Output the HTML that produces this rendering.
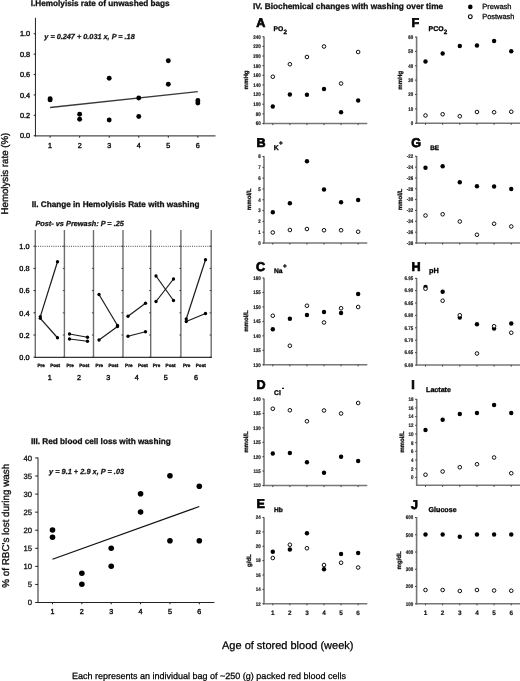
<!DOCTYPE html>
<html><head><meta charset="utf-8"><title>Stored blood washing figure</title>
<style>
html,body{margin:0;padding:0;background:#fff;}
body{width:520px;height:681px;overflow:hidden;}
svg{display:block;will-change:transform;text-rendering:geometricPrecision;font-family:"Liberation Sans", sans-serif;}
</style></head>
<body>
<svg width="520" height="681" viewBox="0 0 520 681">
<rect width="520" height="681" fill="#fff"/>
<text x="30.80" y="6.20" font-size="8.2" font-weight="bold" fill="#111" stroke="#111" stroke-width="0.3">I.Hemolyisis rate of unwashed bags</text>
<line x1="35.45" y1="17.80" x2="35.45" y2="136.40" stroke="#222" stroke-width="1" />
<line x1="34.95" y1="135.90" x2="215.50" y2="135.90" stroke="#222" stroke-width="1" />
<line x1="33.65" y1="135.75" x2="35.45" y2="135.75" stroke="#222" stroke-width="1" />
<text x="30.10" y="138.45" font-size="7.35" text-anchor="end" fill="#111" stroke="#111" stroke-width="0.4">0.0</text>
<line x1="33.65" y1="115.35" x2="35.45" y2="115.35" stroke="#222" stroke-width="1" />
<text x="30.10" y="118.05" font-size="7.35" text-anchor="end" fill="#111" stroke="#111" stroke-width="0.4">0.2</text>
<line x1="33.65" y1="94.95" x2="35.45" y2="94.95" stroke="#222" stroke-width="1" />
<text x="30.10" y="97.65" font-size="7.35" text-anchor="end" fill="#111" stroke="#111" stroke-width="0.4">0.4</text>
<line x1="33.65" y1="74.55" x2="35.45" y2="74.55" stroke="#222" stroke-width="1" />
<text x="30.10" y="77.25" font-size="7.35" text-anchor="end" fill="#111" stroke="#111" stroke-width="0.4">0.6</text>
<line x1="33.65" y1="54.15" x2="35.45" y2="54.15" stroke="#222" stroke-width="1" />
<text x="30.10" y="56.85" font-size="7.35" text-anchor="end" fill="#111" stroke="#111" stroke-width="0.4">0.8</text>
<line x1="33.65" y1="33.75" x2="35.45" y2="33.75" stroke="#222" stroke-width="1" />
<text x="30.10" y="36.45" font-size="7.35" text-anchor="end" fill="#111" stroke="#111" stroke-width="0.4">1.0</text>
<line x1="50.10" y1="135.90" x2="50.10" y2="137.70" stroke="#222" stroke-width="1" />
<text x="50.10" y="147.80" font-size="7.2" text-anchor="middle" fill="#111" stroke="#111" stroke-width="0.4">1</text>
<line x1="79.65" y1="135.90" x2="79.65" y2="137.70" stroke="#222" stroke-width="1" />
<text x="79.65" y="147.80" font-size="7.2" text-anchor="middle" fill="#111" stroke="#111" stroke-width="0.4">2</text>
<line x1="109.20" y1="135.90" x2="109.20" y2="137.70" stroke="#222" stroke-width="1" />
<text x="109.20" y="147.80" font-size="7.2" text-anchor="middle" fill="#111" stroke="#111" stroke-width="0.4">3</text>
<line x1="138.75" y1="135.90" x2="138.75" y2="137.70" stroke="#222" stroke-width="1" />
<text x="138.75" y="147.80" font-size="7.2" text-anchor="middle" fill="#111" stroke="#111" stroke-width="0.4">4</text>
<line x1="168.30" y1="135.90" x2="168.30" y2="137.70" stroke="#222" stroke-width="1" />
<text x="168.30" y="147.80" font-size="7.2" text-anchor="middle" fill="#111" stroke="#111" stroke-width="0.4">5</text>
<line x1="197.85" y1="135.90" x2="197.85" y2="137.70" stroke="#222" stroke-width="1" />
<text x="197.85" y="147.80" font-size="7.2" text-anchor="middle" fill="#111" stroke="#111" stroke-width="0.4">6</text>
<text x="44.30" y="39.40" font-size="7.3" font-weight="bold" font-style="italic" fill="#111" stroke="#111" stroke-width="0.25">y = 0.247 + 0.031 x, P = .18</text>
<line x1="50.10" y1="107.50" x2="197.80" y2="91.70" stroke="#3a3a3a" stroke-width="1.3" />
<circle cx="50.10" cy="98.80" r="2.45" fill="#000"/>
<circle cx="50.10" cy="99.90" r="2.45" fill="#000"/>
<circle cx="79.65" cy="114.25" r="2.45" fill="#000"/>
<circle cx="79.65" cy="119.25" r="2.45" fill="#000"/>
<circle cx="109.20" cy="78.25" r="2.45" fill="#000"/>
<circle cx="109.20" cy="120.00" r="2.45" fill="#000"/>
<circle cx="138.75" cy="98.00" r="2.45" fill="#000"/>
<circle cx="138.75" cy="116.50" r="2.45" fill="#000"/>
<circle cx="168.30" cy="60.75" r="2.45" fill="#000"/>
<circle cx="168.30" cy="84.25" r="2.45" fill="#000"/>
<circle cx="197.85" cy="100.50" r="2.45" fill="#000"/>
<circle cx="197.85" cy="103.00" r="2.45" fill="#000"/>
<text transform="translate(8.2,214.5) rotate(-90)" font-size="9.7" fill="#111" stroke="#111" stroke-width="0.35">Hemolysis rate (%)</text>
<text x="31.70" y="207.20" font-size="8.2" font-weight="bold" fill="#111" stroke="#111" stroke-width="0.3">II. Change in Hemolyisis Rate with washing</text>
<text x="35.40" y="225.80" font-size="7.35" font-weight="bold" font-style="italic" fill="#111" stroke="#111" stroke-width="0.25">Post- vs Prewash: P = .25</text>
<line x1="35.30" y1="230.00" x2="35.30" y2="357.90" stroke="#6e6e6e" stroke-width="1.4" />
<line x1="64.40" y1="230.00" x2="64.40" y2="357.90" stroke="#6e6e6e" stroke-width="1.4" />
<line x1="93.50" y1="230.00" x2="93.50" y2="357.90" stroke="#6e6e6e" stroke-width="1.4" />
<line x1="123.00" y1="230.00" x2="123.00" y2="357.90" stroke="#6e6e6e" stroke-width="1.4" />
<line x1="150.70" y1="230.00" x2="150.70" y2="357.90" stroke="#6e6e6e" stroke-width="1.4" />
<line x1="180.90" y1="230.00" x2="180.90" y2="357.90" stroke="#6e6e6e" stroke-width="1.4" />
<line x1="211.20" y1="230.00" x2="211.20" y2="357.90" stroke="#6e6e6e" stroke-width="1.4" />
<line x1="34.80" y1="357.40" x2="211.70" y2="357.40" stroke="#333" stroke-width="1.25" />
<line x1="35.8" y1="246.3" x2="211" y2="246.3" stroke="#333" stroke-width="0.9" stroke-dasharray="1 1.2"/>
<line x1="33.50" y1="357.20" x2="35.30" y2="357.20" stroke="#222" stroke-width="1" />
<text x="29.50" y="359.95" font-size="7.3" text-anchor="end" fill="#111" stroke="#111" stroke-width="0.4">0.0</text>
<line x1="62.80" y1="357.20" x2="64.40" y2="357.20" stroke="#222" stroke-width="0.8" />
<line x1="91.90" y1="357.20" x2="93.50" y2="357.20" stroke="#222" stroke-width="0.8" />
<line x1="121.40" y1="357.20" x2="123.00" y2="357.20" stroke="#222" stroke-width="0.8" />
<line x1="149.10" y1="357.20" x2="150.70" y2="357.20" stroke="#222" stroke-width="0.8" />
<line x1="179.30" y1="357.20" x2="180.90" y2="357.20" stroke="#222" stroke-width="0.8" />
<line x1="209.60" y1="357.20" x2="211.20" y2="357.20" stroke="#222" stroke-width="0.8" />
<line x1="33.50" y1="335.00" x2="35.30" y2="335.00" stroke="#222" stroke-width="1" />
<text x="29.50" y="337.75" font-size="7.3" text-anchor="end" fill="#111" stroke="#111" stroke-width="0.4">0.2</text>
<line x1="62.80" y1="335.00" x2="64.40" y2="335.00" stroke="#222" stroke-width="0.8" />
<line x1="91.90" y1="335.00" x2="93.50" y2="335.00" stroke="#222" stroke-width="0.8" />
<line x1="121.40" y1="335.00" x2="123.00" y2="335.00" stroke="#222" stroke-width="0.8" />
<line x1="149.10" y1="335.00" x2="150.70" y2="335.00" stroke="#222" stroke-width="0.8" />
<line x1="179.30" y1="335.00" x2="180.90" y2="335.00" stroke="#222" stroke-width="0.8" />
<line x1="209.60" y1="335.00" x2="211.20" y2="335.00" stroke="#222" stroke-width="0.8" />
<line x1="33.50" y1="312.80" x2="35.30" y2="312.80" stroke="#222" stroke-width="1" />
<text x="29.50" y="315.55" font-size="7.3" text-anchor="end" fill="#111" stroke="#111" stroke-width="0.4">0.4</text>
<line x1="62.80" y1="312.80" x2="64.40" y2="312.80" stroke="#222" stroke-width="0.8" />
<line x1="91.90" y1="312.80" x2="93.50" y2="312.80" stroke="#222" stroke-width="0.8" />
<line x1="121.40" y1="312.80" x2="123.00" y2="312.80" stroke="#222" stroke-width="0.8" />
<line x1="149.10" y1="312.80" x2="150.70" y2="312.80" stroke="#222" stroke-width="0.8" />
<line x1="179.30" y1="312.80" x2="180.90" y2="312.80" stroke="#222" stroke-width="0.8" />
<line x1="209.60" y1="312.80" x2="211.20" y2="312.80" stroke="#222" stroke-width="0.8" />
<line x1="33.50" y1="290.60" x2="35.30" y2="290.60" stroke="#222" stroke-width="1" />
<text x="29.50" y="293.35" font-size="7.3" text-anchor="end" fill="#111" stroke="#111" stroke-width="0.4">0.6</text>
<line x1="62.80" y1="290.60" x2="64.40" y2="290.60" stroke="#222" stroke-width="0.8" />
<line x1="91.90" y1="290.60" x2="93.50" y2="290.60" stroke="#222" stroke-width="0.8" />
<line x1="121.40" y1="290.60" x2="123.00" y2="290.60" stroke="#222" stroke-width="0.8" />
<line x1="149.10" y1="290.60" x2="150.70" y2="290.60" stroke="#222" stroke-width="0.8" />
<line x1="179.30" y1="290.60" x2="180.90" y2="290.60" stroke="#222" stroke-width="0.8" />
<line x1="209.60" y1="290.60" x2="211.20" y2="290.60" stroke="#222" stroke-width="0.8" />
<line x1="33.50" y1="268.40" x2="35.30" y2="268.40" stroke="#222" stroke-width="1" />
<text x="29.50" y="271.15" font-size="7.3" text-anchor="end" fill="#111" stroke="#111" stroke-width="0.4">0.8</text>
<line x1="62.80" y1="268.40" x2="64.40" y2="268.40" stroke="#222" stroke-width="0.8" />
<line x1="91.90" y1="268.40" x2="93.50" y2="268.40" stroke="#222" stroke-width="0.8" />
<line x1="121.40" y1="268.40" x2="123.00" y2="268.40" stroke="#222" stroke-width="0.8" />
<line x1="149.10" y1="268.40" x2="150.70" y2="268.40" stroke="#222" stroke-width="0.8" />
<line x1="179.30" y1="268.40" x2="180.90" y2="268.40" stroke="#222" stroke-width="0.8" />
<line x1="209.60" y1="268.40" x2="211.20" y2="268.40" stroke="#222" stroke-width="0.8" />
<line x1="33.50" y1="246.20" x2="35.30" y2="246.20" stroke="#222" stroke-width="1" />
<text x="29.50" y="248.95" font-size="7.3" text-anchor="end" fill="#111" stroke="#111" stroke-width="0.4">1.0</text>
<line x1="62.80" y1="246.20" x2="64.40" y2="246.20" stroke="#222" stroke-width="0.8" />
<line x1="91.90" y1="246.20" x2="93.50" y2="246.20" stroke="#222" stroke-width="0.8" />
<line x1="121.40" y1="246.20" x2="123.00" y2="246.20" stroke="#222" stroke-width="0.8" />
<line x1="149.10" y1="246.20" x2="150.70" y2="246.20" stroke="#222" stroke-width="0.8" />
<line x1="179.30" y1="246.20" x2="180.90" y2="246.20" stroke="#222" stroke-width="0.8" />
<line x1="209.60" y1="246.20" x2="211.20" y2="246.20" stroke="#222" stroke-width="0.8" />
<line x1="40.30" y1="316.60" x2="57.50" y2="261.75" stroke="#1a1a1a" stroke-width="1.2" />
<circle cx="40.30" cy="316.60" r="1.65" fill="#000"/>
<circle cx="57.50" cy="261.75" r="1.65" fill="#000"/>
<line x1="40.30" y1="318.30" x2="57.50" y2="337.75" stroke="#1a1a1a" stroke-width="1.2" />
<circle cx="40.30" cy="318.30" r="1.65" fill="#000"/>
<circle cx="57.50" cy="337.75" r="1.65" fill="#000"/>
<text x="37.40" y="366.70" font-size="4.6" font-weight="bold" fill="#111" stroke="#111" stroke-width="0.35">Pre</text>
<text x="50.20" y="366.70" font-size="4.6" font-weight="bold" fill="#111" stroke="#111" stroke-width="0.35">Post</text>
<text x="49.85" y="380.00" font-size="7.2" text-anchor="middle" fill="#111" stroke="#111" stroke-width="0.4">1</text>
<line x1="69.50" y1="334.00" x2="87.50" y2="337.25" stroke="#1a1a1a" stroke-width="1.2" />
<circle cx="69.50" cy="334.00" r="1.65" fill="#000"/>
<circle cx="87.50" cy="337.25" r="1.65" fill="#000"/>
<line x1="69.50" y1="339.00" x2="87.50" y2="341.25" stroke="#1a1a1a" stroke-width="1.2" />
<circle cx="69.50" cy="339.00" r="1.65" fill="#000"/>
<circle cx="87.50" cy="341.25" r="1.65" fill="#000"/>
<text x="66.50" y="366.70" font-size="4.6" font-weight="bold" fill="#111" stroke="#111" stroke-width="0.35">Pre</text>
<text x="79.30" y="366.70" font-size="4.6" font-weight="bold" fill="#111" stroke="#111" stroke-width="0.35">Post</text>
<text x="78.95" y="380.00" font-size="7.2" text-anchor="middle" fill="#111" stroke="#111" stroke-width="0.4">2</text>
<line x1="99.00" y1="294.50" x2="117.50" y2="325.50" stroke="#1a1a1a" stroke-width="1.2" />
<circle cx="99.00" cy="294.50" r="1.65" fill="#000"/>
<circle cx="117.50" cy="325.50" r="1.65" fill="#000"/>
<line x1="99.00" y1="340.00" x2="117.50" y2="326.50" stroke="#1a1a1a" stroke-width="1.2" />
<circle cx="99.00" cy="340.00" r="1.65" fill="#000"/>
<circle cx="117.50" cy="326.50" r="1.65" fill="#000"/>
<text x="95.60" y="366.70" font-size="4.6" font-weight="bold" fill="#111" stroke="#111" stroke-width="0.35">Pre</text>
<text x="108.40" y="366.70" font-size="4.6" font-weight="bold" fill="#111" stroke="#111" stroke-width="0.35">Post</text>
<text x="108.25" y="380.00" font-size="7.2" text-anchor="middle" fill="#111" stroke="#111" stroke-width="0.4">3</text>
<line x1="128.00" y1="316.25" x2="145.50" y2="303.25" stroke="#1a1a1a" stroke-width="1.2" />
<circle cx="128.00" cy="316.25" r="1.65" fill="#000"/>
<circle cx="145.50" cy="303.25" r="1.65" fill="#000"/>
<line x1="128.00" y1="336.25" x2="145.50" y2="331.75" stroke="#1a1a1a" stroke-width="1.2" />
<circle cx="128.00" cy="336.25" r="1.65" fill="#000"/>
<circle cx="145.50" cy="331.75" r="1.65" fill="#000"/>
<text x="125.10" y="366.70" font-size="4.6" font-weight="bold" fill="#111" stroke="#111" stroke-width="0.35">Pre</text>
<text x="137.90" y="366.70" font-size="4.6" font-weight="bold" fill="#111" stroke="#111" stroke-width="0.35">Post</text>
<text x="136.85" y="380.00" font-size="7.2" text-anchor="middle" fill="#111" stroke="#111" stroke-width="0.4">4</text>
<line x1="156.00" y1="276.00" x2="173.50" y2="300.50" stroke="#1a1a1a" stroke-width="1.2" />
<circle cx="156.00" cy="276.00" r="1.65" fill="#000"/>
<circle cx="173.50" cy="300.50" r="1.65" fill="#000"/>
<line x1="156.00" y1="301.50" x2="173.50" y2="279.00" stroke="#1a1a1a" stroke-width="1.2" />
<circle cx="156.00" cy="301.50" r="1.65" fill="#000"/>
<circle cx="173.50" cy="279.00" r="1.65" fill="#000"/>
<text x="152.80" y="366.70" font-size="4.6" font-weight="bold" fill="#111" stroke="#111" stroke-width="0.35">Pre</text>
<text x="165.60" y="366.70" font-size="4.6" font-weight="bold" fill="#111" stroke="#111" stroke-width="0.35">Post</text>
<text x="165.80" y="380.00" font-size="7.2" text-anchor="middle" fill="#111" stroke="#111" stroke-width="0.4">5</text>
<line x1="186.25" y1="319.00" x2="205.50" y2="259.75" stroke="#1a1a1a" stroke-width="1.2" />
<circle cx="186.25" cy="319.00" r="1.65" fill="#000"/>
<circle cx="205.50" cy="259.75" r="1.65" fill="#000"/>
<line x1="186.25" y1="321.50" x2="205.50" y2="313.50" stroke="#1a1a1a" stroke-width="1.2" />
<circle cx="186.25" cy="321.50" r="1.65" fill="#000"/>
<circle cx="205.50" cy="313.50" r="1.65" fill="#000"/>
<text x="183.00" y="366.70" font-size="4.6" font-weight="bold" fill="#111" stroke="#111" stroke-width="0.35">Pre</text>
<text x="195.80" y="366.70" font-size="4.6" font-weight="bold" fill="#111" stroke="#111" stroke-width="0.35">Post</text>
<text x="196.05" y="380.00" font-size="7.2" text-anchor="middle" fill="#111" stroke="#111" stroke-width="0.4">6</text>
<text x="31.00" y="444.20" font-size="8.2" font-weight="bold" fill="#111" stroke="#111" stroke-width="0.3">III. Red blood cell loss with washing</text>
<line x1="38.00" y1="457.50" x2="38.00" y2="603.00" stroke="#222" stroke-width="1" />
<line x1="37.50" y1="602.50" x2="214.40" y2="602.50" stroke="#222" stroke-width="1" />
<line x1="35.20" y1="602.50" x2="38.00" y2="602.50" stroke="#222" stroke-width="1" />
<text x="32.10" y="605.25" font-size="7.7" text-anchor="end" fill="#111" stroke="#111" stroke-width="0.3">0</text>
<line x1="35.20" y1="584.43" x2="38.00" y2="584.43" stroke="#222" stroke-width="1" />
<text x="32.10" y="587.18" font-size="7.7" text-anchor="end" fill="#111" stroke="#111" stroke-width="0.3">5</text>
<line x1="35.20" y1="566.36" x2="38.00" y2="566.36" stroke="#222" stroke-width="1" />
<text x="32.10" y="569.11" font-size="7.7" text-anchor="end" fill="#111" stroke="#111" stroke-width="0.3">10</text>
<line x1="35.20" y1="548.29" x2="38.00" y2="548.29" stroke="#222" stroke-width="1" />
<text x="32.10" y="551.04" font-size="7.7" text-anchor="end" fill="#111" stroke="#111" stroke-width="0.3">15</text>
<line x1="35.20" y1="530.22" x2="38.00" y2="530.22" stroke="#222" stroke-width="1" />
<text x="32.10" y="532.97" font-size="7.7" text-anchor="end" fill="#111" stroke="#111" stroke-width="0.3">20</text>
<line x1="35.20" y1="512.15" x2="38.00" y2="512.15" stroke="#222" stroke-width="1" />
<text x="32.10" y="514.90" font-size="7.7" text-anchor="end" fill="#111" stroke="#111" stroke-width="0.3">25</text>
<line x1="35.20" y1="494.08" x2="38.00" y2="494.08" stroke="#222" stroke-width="1" />
<text x="32.10" y="496.83" font-size="7.7" text-anchor="end" fill="#111" stroke="#111" stroke-width="0.3">30</text>
<line x1="35.20" y1="476.01" x2="38.00" y2="476.01" stroke="#222" stroke-width="1" />
<text x="32.10" y="478.76" font-size="7.7" text-anchor="end" fill="#111" stroke="#111" stroke-width="0.3">35</text>
<line x1="35.20" y1="457.94" x2="38.00" y2="457.94" stroke="#222" stroke-width="1" />
<text x="32.10" y="460.69" font-size="7.7" text-anchor="end" fill="#111" stroke="#111" stroke-width="0.3">40</text>
<line x1="52.50" y1="602.50" x2="52.50" y2="604.30" stroke="#222" stroke-width="1" />
<text x="52.50" y="614.40" font-size="7.2" text-anchor="middle" fill="#111" stroke="#111" stroke-width="0.4">1</text>
<line x1="81.86" y1="602.50" x2="81.86" y2="604.30" stroke="#222" stroke-width="1" />
<text x="81.86" y="614.40" font-size="7.2" text-anchor="middle" fill="#111" stroke="#111" stroke-width="0.4">2</text>
<line x1="111.22" y1="602.50" x2="111.22" y2="604.30" stroke="#222" stroke-width="1" />
<text x="111.22" y="614.40" font-size="7.2" text-anchor="middle" fill="#111" stroke="#111" stroke-width="0.4">3</text>
<line x1="140.58" y1="602.50" x2="140.58" y2="604.30" stroke="#222" stroke-width="1" />
<text x="140.58" y="614.40" font-size="7.2" text-anchor="middle" fill="#111" stroke="#111" stroke-width="0.4">4</text>
<line x1="169.94" y1="602.50" x2="169.94" y2="604.30" stroke="#222" stroke-width="1" />
<text x="169.94" y="614.40" font-size="7.2" text-anchor="middle" fill="#111" stroke="#111" stroke-width="0.4">5</text>
<line x1="199.30" y1="602.50" x2="199.30" y2="604.30" stroke="#222" stroke-width="1" />
<text x="199.30" y="614.40" font-size="7.2" text-anchor="middle" fill="#111" stroke="#111" stroke-width="0.4">6</text>
<text x="49.00" y="473.90" font-size="7.4" font-weight="bold" font-style="italic" fill="#111" stroke="#111" stroke-width="0.25">y = 9.1 + 2.9 x, P = .03</text>
<line x1="52.50" y1="559.25" x2="199.30" y2="506.50" stroke="#111" stroke-width="1.3" />
<circle cx="52.50" cy="530.00" r="2.8" fill="#000"/>
<circle cx="52.50" cy="537.25" r="2.8" fill="#000"/>
<circle cx="81.86" cy="573.25" r="2.8" fill="#000"/>
<circle cx="81.86" cy="584.25" r="2.8" fill="#000"/>
<circle cx="111.22" cy="548.25" r="2.8" fill="#000"/>
<circle cx="111.22" cy="566.25" r="2.8" fill="#000"/>
<circle cx="140.58" cy="493.80" r="2.8" fill="#000"/>
<circle cx="140.58" cy="512.00" r="2.8" fill="#000"/>
<circle cx="169.94" cy="475.70" r="2.8" fill="#000"/>
<circle cx="169.94" cy="540.70" r="2.8" fill="#000"/>
<circle cx="199.30" cy="486.30" r="2.8" fill="#000"/>
<circle cx="199.30" cy="540.70" r="2.8" fill="#000"/>
<text transform="translate(9.2,587.7) rotate(-90)" font-size="9.85" fill="#111" stroke="#111" stroke-width="0.35">% of RBC's lost during wash</text>
<text x="253.00" y="9.00" font-size="8.3" font-weight="bold" fill="#111" stroke="#111" stroke-width="0.3">IV. Biochemical changes with washing over time</text>
<circle cx="470.30" cy="6.90" r="2.3" fill="#000"/>
<text x="482.30" y="9.40" font-size="7.5" fill="#111" stroke="#111" stroke-width="0.3">Prewash</text>
<circle cx="470.30" cy="16.70" r="1.9" fill="#fff" stroke="#000" stroke-width="1.1"/>
<text x="482.30" y="19.30" font-size="7.4" fill="#111" stroke="#111" stroke-width="0.3">Postwash</text>
<text x="256.20" y="26.60" font-size="12.6" font-weight="bold" fill="#000" stroke="#000" stroke-width="0.7">A</text>
<text x="273.50" y="31.00" font-size="6.75" font-weight="bold" fill="#000" stroke="#000" stroke-width="0.3">PO</text><text x="283.60" y="33.70" font-size="6.3" font-weight="bold" fill="#000" stroke="#000" stroke-width="0.3">2</text>
<line x1="264.00" y1="36.45" x2="264.00" y2="124.20" stroke="#777777" stroke-width="1.6" />
<line x1="263.30" y1="123.50" x2="367.30" y2="123.50" stroke="#777777" stroke-width="1.6" />
<line x1="262.40" y1="36.75" x2="264.00" y2="36.75" stroke="#333" stroke-width="0.9" />
<text transform="translate(260.70,38.60) scale(0.86,1)" font-size="5.2" text-anchor="end" font-weight="bold" fill="#1a1a1a" stroke="#1a1a1a" stroke-width="0.2">240</text>
<line x1="262.40" y1="46.39" x2="264.00" y2="46.39" stroke="#333" stroke-width="0.9" />
<text transform="translate(260.70,48.24) scale(0.86,1)" font-size="5.2" text-anchor="end" font-weight="bold" fill="#1a1a1a" stroke="#1a1a1a" stroke-width="0.2">220</text>
<line x1="262.40" y1="56.03" x2="264.00" y2="56.03" stroke="#333" stroke-width="0.9" />
<text transform="translate(260.70,57.88) scale(0.86,1)" font-size="5.2" text-anchor="end" font-weight="bold" fill="#1a1a1a" stroke="#1a1a1a" stroke-width="0.2">200</text>
<line x1="262.40" y1="65.67" x2="264.00" y2="65.67" stroke="#333" stroke-width="0.9" />
<text transform="translate(260.70,67.52) scale(0.86,1)" font-size="5.2" text-anchor="end" font-weight="bold" fill="#1a1a1a" stroke="#1a1a1a" stroke-width="0.2">180</text>
<line x1="262.40" y1="75.31" x2="264.00" y2="75.31" stroke="#333" stroke-width="0.9" />
<text transform="translate(260.70,77.16) scale(0.86,1)" font-size="5.2" text-anchor="end" font-weight="bold" fill="#1a1a1a" stroke="#1a1a1a" stroke-width="0.2">160</text>
<line x1="262.40" y1="84.94" x2="264.00" y2="84.94" stroke="#333" stroke-width="0.9" />
<text transform="translate(260.70,86.79) scale(0.86,1)" font-size="5.2" text-anchor="end" font-weight="bold" fill="#1a1a1a" stroke="#1a1a1a" stroke-width="0.2">140</text>
<line x1="262.40" y1="94.58" x2="264.00" y2="94.58" stroke="#333" stroke-width="0.9" />
<text transform="translate(260.70,96.43) scale(0.86,1)" font-size="5.2" text-anchor="end" font-weight="bold" fill="#1a1a1a" stroke="#1a1a1a" stroke-width="0.2">120</text>
<line x1="262.40" y1="104.22" x2="264.00" y2="104.22" stroke="#333" stroke-width="0.9" />
<text transform="translate(260.70,106.07) scale(0.86,1)" font-size="5.2" text-anchor="end" font-weight="bold" fill="#1a1a1a" stroke="#1a1a1a" stroke-width="0.2">100</text>
<line x1="262.40" y1="113.86" x2="264.00" y2="113.86" stroke="#333" stroke-width="0.9" />
<text transform="translate(260.70,115.71) scale(0.86,1)" font-size="5.2" text-anchor="end" font-weight="bold" fill="#1a1a1a" stroke="#1a1a1a" stroke-width="0.2">80</text>
<line x1="262.40" y1="123.50" x2="264.00" y2="123.50" stroke="#333" stroke-width="0.9" />
<text transform="translate(260.70,125.35) scale(0.86,1)" font-size="5.2" text-anchor="end" font-weight="bold" fill="#1a1a1a" stroke="#1a1a1a" stroke-width="0.2">60</text>
<line x1="272.80" y1="123.50" x2="272.80" y2="125.10" stroke="#333" stroke-width="0.9" />
<line x1="289.87" y1="123.50" x2="289.87" y2="125.10" stroke="#333" stroke-width="0.9" />
<line x1="306.94" y1="123.50" x2="306.94" y2="125.10" stroke="#333" stroke-width="0.9" />
<line x1="324.01" y1="123.50" x2="324.01" y2="125.10" stroke="#333" stroke-width="0.9" />
<line x1="341.08" y1="123.50" x2="341.08" y2="125.10" stroke="#333" stroke-width="0.9" />
<line x1="358.15" y1="123.50" x2="358.15" y2="125.10" stroke="#333" stroke-width="0.9" />
<circle cx="272.80" cy="106.50" r="2.2" fill="#000"/>
<circle cx="289.87" cy="94.50" r="2.2" fill="#000"/>
<circle cx="306.94" cy="94.75" r="2.2" fill="#000"/>
<circle cx="324.01" cy="89.00" r="2.2" fill="#000"/>
<circle cx="341.08" cy="112.25" r="2.2" fill="#000"/>
<circle cx="358.15" cy="100.50" r="2.2" fill="#000"/>
<circle cx="272.80" cy="76.75" r="1.8" fill="#fff" stroke="#000" stroke-width="0.95"/>
<circle cx="289.87" cy="64.25" r="1.8" fill="#fff" stroke="#000" stroke-width="0.95"/>
<circle cx="306.94" cy="57.00" r="1.8" fill="#fff" stroke="#000" stroke-width="0.95"/>
<circle cx="324.01" cy="46.50" r="1.8" fill="#fff" stroke="#000" stroke-width="0.95"/>
<circle cx="341.08" cy="83.50" r="1.8" fill="#fff" stroke="#000" stroke-width="0.95"/>
<circle cx="358.15" cy="52.00" r="1.8" fill="#fff" stroke="#000" stroke-width="0.95"/>
<text transform="translate(248.20,79.90) rotate(-90)" font-size="6.1" text-anchor="middle" font-weight="bold" fill="#111" stroke="#111" stroke-width="0.3">mmHg</text>
<text x="256.40" y="147.10" font-size="12.6" font-weight="bold" fill="#000" stroke="#000" stroke-width="0.7">B</text>
<text x="273.80" y="149.90" font-size="6.9" font-weight="bold" fill="#000" stroke="#000" stroke-width="0.3">K</text><text x="279.00" y="145.00" font-size="6.3" font-weight="bold" fill="#000" stroke="#000" stroke-width="0.35">+</text>
<line x1="264.00" y1="156.20" x2="264.00" y2="243.70" stroke="#777777" stroke-width="1.6" />
<line x1="263.30" y1="243.00" x2="367.30" y2="243.00" stroke="#777777" stroke-width="1.6" />
<line x1="262.40" y1="156.50" x2="264.00" y2="156.50" stroke="#333" stroke-width="0.9" />
<text transform="translate(260.70,158.35) scale(0.86,1)" font-size="5.2" text-anchor="end" font-weight="bold" fill="#1a1a1a" stroke="#1a1a1a" stroke-width="0.2">8</text>
<line x1="262.40" y1="167.31" x2="264.00" y2="167.31" stroke="#333" stroke-width="0.9" />
<text transform="translate(260.70,169.16) scale(0.86,1)" font-size="5.2" text-anchor="end" font-weight="bold" fill="#1a1a1a" stroke="#1a1a1a" stroke-width="0.2">7</text>
<line x1="262.40" y1="178.12" x2="264.00" y2="178.12" stroke="#333" stroke-width="0.9" />
<text transform="translate(260.70,179.97) scale(0.86,1)" font-size="5.2" text-anchor="end" font-weight="bold" fill="#1a1a1a" stroke="#1a1a1a" stroke-width="0.2">6</text>
<line x1="262.40" y1="188.94" x2="264.00" y2="188.94" stroke="#333" stroke-width="0.9" />
<text transform="translate(260.70,190.79) scale(0.86,1)" font-size="5.2" text-anchor="end" font-weight="bold" fill="#1a1a1a" stroke="#1a1a1a" stroke-width="0.2">5</text>
<line x1="262.40" y1="199.75" x2="264.00" y2="199.75" stroke="#333" stroke-width="0.9" />
<text transform="translate(260.70,201.60) scale(0.86,1)" font-size="5.2" text-anchor="end" font-weight="bold" fill="#1a1a1a" stroke="#1a1a1a" stroke-width="0.2">4</text>
<line x1="262.40" y1="210.56" x2="264.00" y2="210.56" stroke="#333" stroke-width="0.9" />
<text transform="translate(260.70,212.41) scale(0.86,1)" font-size="5.2" text-anchor="end" font-weight="bold" fill="#1a1a1a" stroke="#1a1a1a" stroke-width="0.2">3</text>
<line x1="262.40" y1="221.38" x2="264.00" y2="221.38" stroke="#333" stroke-width="0.9" />
<text transform="translate(260.70,223.22) scale(0.86,1)" font-size="5.2" text-anchor="end" font-weight="bold" fill="#1a1a1a" stroke="#1a1a1a" stroke-width="0.2">2</text>
<line x1="262.40" y1="232.19" x2="264.00" y2="232.19" stroke="#333" stroke-width="0.9" />
<text transform="translate(260.70,234.04) scale(0.86,1)" font-size="5.2" text-anchor="end" font-weight="bold" fill="#1a1a1a" stroke="#1a1a1a" stroke-width="0.2">1</text>
<line x1="262.40" y1="243.00" x2="264.00" y2="243.00" stroke="#333" stroke-width="0.9" />
<text transform="translate(260.70,244.85) scale(0.86,1)" font-size="5.2" text-anchor="end" font-weight="bold" fill="#1a1a1a" stroke="#1a1a1a" stroke-width="0.2">0</text>
<line x1="272.80" y1="243.00" x2="272.80" y2="244.60" stroke="#333" stroke-width="0.9" />
<line x1="289.87" y1="243.00" x2="289.87" y2="244.60" stroke="#333" stroke-width="0.9" />
<line x1="306.94" y1="243.00" x2="306.94" y2="244.60" stroke="#333" stroke-width="0.9" />
<line x1="324.01" y1="243.00" x2="324.01" y2="244.60" stroke="#333" stroke-width="0.9" />
<line x1="341.08" y1="243.00" x2="341.08" y2="244.60" stroke="#333" stroke-width="0.9" />
<line x1="358.15" y1="243.00" x2="358.15" y2="244.60" stroke="#333" stroke-width="0.9" />
<circle cx="272.80" cy="212.25" r="2.2" fill="#000"/>
<circle cx="289.87" cy="203.25" r="2.2" fill="#000"/>
<circle cx="306.94" cy="161.25" r="2.2" fill="#000"/>
<circle cx="324.01" cy="189.50" r="2.2" fill="#000"/>
<circle cx="341.08" cy="202.25" r="2.2" fill="#000"/>
<circle cx="358.15" cy="200.00" r="2.2" fill="#000"/>
<circle cx="272.80" cy="232.50" r="1.8" fill="#fff" stroke="#000" stroke-width="0.95"/>
<circle cx="289.87" cy="230.00" r="1.8" fill="#fff" stroke="#000" stroke-width="0.95"/>
<circle cx="306.94" cy="229.00" r="1.8" fill="#fff" stroke="#000" stroke-width="0.95"/>
<circle cx="324.01" cy="230.25" r="1.8" fill="#fff" stroke="#000" stroke-width="0.95"/>
<circle cx="341.08" cy="230.25" r="1.8" fill="#fff" stroke="#000" stroke-width="0.95"/>
<circle cx="358.15" cy="231.75" r="1.8" fill="#fff" stroke="#000" stroke-width="0.95"/>
<text transform="translate(251.30,199.30) rotate(-90)" font-size="6.1" text-anchor="middle" font-weight="bold" fill="#111" stroke="#111" stroke-width="0.3">mmol/L</text>
<text x="256.10" y="270.80" font-size="12.6" font-weight="bold" fill="#000" stroke="#000" stroke-width="0.7">C</text>
<text x="274.00" y="272.90" font-size="6.7" font-weight="bold" fill="#000" stroke="#000" stroke-width="0.3">Na</text><text x="282.90" y="268.30" font-size="6.3" font-weight="bold" fill="#000" stroke="#000" stroke-width="0.35">+</text>
<line x1="264.00" y1="277.70" x2="264.00" y2="365.45" stroke="#777777" stroke-width="1.6" />
<line x1="263.30" y1="364.75" x2="367.30" y2="364.75" stroke="#777777" stroke-width="1.6" />
<line x1="262.40" y1="278.00" x2="264.00" y2="278.00" stroke="#333" stroke-width="0.9" />
<text transform="translate(260.70,279.85) scale(0.86,1)" font-size="5.2" text-anchor="end" font-weight="bold" fill="#1a1a1a" stroke="#1a1a1a" stroke-width="0.2">160</text>
<line x1="262.40" y1="292.46" x2="264.00" y2="292.46" stroke="#333" stroke-width="0.9" />
<text transform="translate(260.70,294.31) scale(0.86,1)" font-size="5.2" text-anchor="end" font-weight="bold" fill="#1a1a1a" stroke="#1a1a1a" stroke-width="0.2">155</text>
<line x1="262.40" y1="306.92" x2="264.00" y2="306.92" stroke="#333" stroke-width="0.9" />
<text transform="translate(260.70,308.77) scale(0.86,1)" font-size="5.2" text-anchor="end" font-weight="bold" fill="#1a1a1a" stroke="#1a1a1a" stroke-width="0.2">150</text>
<line x1="262.40" y1="321.38" x2="264.00" y2="321.38" stroke="#333" stroke-width="0.9" />
<text transform="translate(260.70,323.23) scale(0.86,1)" font-size="5.2" text-anchor="end" font-weight="bold" fill="#1a1a1a" stroke="#1a1a1a" stroke-width="0.2">145</text>
<line x1="262.40" y1="335.83" x2="264.00" y2="335.83" stroke="#333" stroke-width="0.9" />
<text transform="translate(260.70,337.68) scale(0.86,1)" font-size="5.2" text-anchor="end" font-weight="bold" fill="#1a1a1a" stroke="#1a1a1a" stroke-width="0.2">140</text>
<line x1="262.40" y1="350.29" x2="264.00" y2="350.29" stroke="#333" stroke-width="0.9" />
<text transform="translate(260.70,352.14) scale(0.86,1)" font-size="5.2" text-anchor="end" font-weight="bold" fill="#1a1a1a" stroke="#1a1a1a" stroke-width="0.2">135</text>
<line x1="262.40" y1="364.75" x2="264.00" y2="364.75" stroke="#333" stroke-width="0.9" />
<text transform="translate(260.70,366.60) scale(0.86,1)" font-size="5.2" text-anchor="end" font-weight="bold" fill="#1a1a1a" stroke="#1a1a1a" stroke-width="0.2">130</text>
<line x1="272.80" y1="364.75" x2="272.80" y2="366.35" stroke="#333" stroke-width="0.9" />
<line x1="289.87" y1="364.75" x2="289.87" y2="366.35" stroke="#333" stroke-width="0.9" />
<line x1="306.94" y1="364.75" x2="306.94" y2="366.35" stroke="#333" stroke-width="0.9" />
<line x1="324.01" y1="364.75" x2="324.01" y2="366.35" stroke="#333" stroke-width="0.9" />
<line x1="341.08" y1="364.75" x2="341.08" y2="366.35" stroke="#333" stroke-width="0.9" />
<line x1="358.15" y1="364.75" x2="358.15" y2="366.35" stroke="#333" stroke-width="0.9" />
<circle cx="272.80" cy="329.25" r="2.2" fill="#000"/>
<circle cx="289.87" cy="318.75" r="2.2" fill="#000"/>
<circle cx="306.94" cy="315.00" r="2.2" fill="#000"/>
<circle cx="324.01" cy="312.00" r="2.2" fill="#000"/>
<circle cx="341.08" cy="313.00" r="2.2" fill="#000"/>
<circle cx="358.15" cy="294.00" r="2.2" fill="#000"/>
<circle cx="272.80" cy="315.75" r="1.8" fill="#fff" stroke="#000" stroke-width="0.95"/>
<circle cx="289.87" cy="345.75" r="1.8" fill="#fff" stroke="#000" stroke-width="0.95"/>
<circle cx="306.94" cy="305.75" r="1.8" fill="#fff" stroke="#000" stroke-width="0.95"/>
<circle cx="324.01" cy="322.50" r="1.8" fill="#fff" stroke="#000" stroke-width="0.95"/>
<circle cx="341.08" cy="308.25" r="1.8" fill="#fff" stroke="#000" stroke-width="0.95"/>
<circle cx="358.15" cy="307.00" r="1.8" fill="#fff" stroke="#000" stroke-width="0.95"/>
<text transform="translate(248.30,321.00) rotate(-90)" font-size="6.1" text-anchor="middle" font-weight="bold" fill="#111" stroke="#111" stroke-width="0.3">mmol/L</text>
<text x="256.40" y="389.20" font-size="12.6" font-weight="bold" fill="#000" stroke="#000" stroke-width="0.7">D</text>
<text x="274.00" y="395.10" font-size="6.8" font-weight="bold" fill="#000" stroke="#000" stroke-width="0.3">Cl</text><text x="282.00" y="390.00" font-size="6.3" font-weight="bold" fill="#000" stroke="#000" stroke-width="0.35">-</text>
<line x1="264.00" y1="398.70" x2="264.00" y2="486.20" stroke="#777777" stroke-width="1.6" />
<line x1="263.30" y1="485.50" x2="367.30" y2="485.50" stroke="#777777" stroke-width="1.6" />
<line x1="262.40" y1="399.00" x2="264.00" y2="399.00" stroke="#333" stroke-width="0.9" />
<text transform="translate(260.70,400.85) scale(0.86,1)" font-size="5.2" text-anchor="end" font-weight="bold" fill="#1a1a1a" stroke="#1a1a1a" stroke-width="0.2">140</text>
<line x1="262.40" y1="413.42" x2="264.00" y2="413.42" stroke="#333" stroke-width="0.9" />
<text transform="translate(260.70,415.27) scale(0.86,1)" font-size="5.2" text-anchor="end" font-weight="bold" fill="#1a1a1a" stroke="#1a1a1a" stroke-width="0.2">135</text>
<line x1="262.40" y1="427.83" x2="264.00" y2="427.83" stroke="#333" stroke-width="0.9" />
<text transform="translate(260.70,429.68) scale(0.86,1)" font-size="5.2" text-anchor="end" font-weight="bold" fill="#1a1a1a" stroke="#1a1a1a" stroke-width="0.2">130</text>
<line x1="262.40" y1="442.25" x2="264.00" y2="442.25" stroke="#333" stroke-width="0.9" />
<text transform="translate(260.70,444.10) scale(0.86,1)" font-size="5.2" text-anchor="end" font-weight="bold" fill="#1a1a1a" stroke="#1a1a1a" stroke-width="0.2">125</text>
<line x1="262.40" y1="456.67" x2="264.00" y2="456.67" stroke="#333" stroke-width="0.9" />
<text transform="translate(260.70,458.52) scale(0.86,1)" font-size="5.2" text-anchor="end" font-weight="bold" fill="#1a1a1a" stroke="#1a1a1a" stroke-width="0.2">120</text>
<line x1="262.40" y1="471.08" x2="264.00" y2="471.08" stroke="#333" stroke-width="0.9" />
<text transform="translate(260.70,472.93) scale(0.86,1)" font-size="5.2" text-anchor="end" font-weight="bold" fill="#1a1a1a" stroke="#1a1a1a" stroke-width="0.2">115</text>
<line x1="262.40" y1="485.50" x2="264.00" y2="485.50" stroke="#333" stroke-width="0.9" />
<text transform="translate(260.70,487.35) scale(0.86,1)" font-size="5.2" text-anchor="end" font-weight="bold" fill="#1a1a1a" stroke="#1a1a1a" stroke-width="0.2">110</text>
<line x1="272.80" y1="485.50" x2="272.80" y2="487.10" stroke="#333" stroke-width="0.9" />
<line x1="289.87" y1="485.50" x2="289.87" y2="487.10" stroke="#333" stroke-width="0.9" />
<line x1="306.94" y1="485.50" x2="306.94" y2="487.10" stroke="#333" stroke-width="0.9" />
<line x1="324.01" y1="485.50" x2="324.01" y2="487.10" stroke="#333" stroke-width="0.9" />
<line x1="341.08" y1="485.50" x2="341.08" y2="487.10" stroke="#333" stroke-width="0.9" />
<line x1="358.15" y1="485.50" x2="358.15" y2="487.10" stroke="#333" stroke-width="0.9" />
<circle cx="272.80" cy="453.50" r="2.2" fill="#000"/>
<circle cx="289.87" cy="453.00" r="2.2" fill="#000"/>
<circle cx="306.94" cy="462.25" r="2.2" fill="#000"/>
<circle cx="324.01" cy="472.75" r="2.2" fill="#000"/>
<circle cx="341.08" cy="456.75" r="2.2" fill="#000"/>
<circle cx="358.15" cy="461.00" r="2.2" fill="#000"/>
<circle cx="272.80" cy="408.75" r="1.8" fill="#fff" stroke="#000" stroke-width="0.95"/>
<circle cx="289.87" cy="410.25" r="1.8" fill="#fff" stroke="#000" stroke-width="0.95"/>
<circle cx="306.94" cy="421.25" r="1.8" fill="#fff" stroke="#000" stroke-width="0.95"/>
<circle cx="324.01" cy="410.50" r="1.8" fill="#fff" stroke="#000" stroke-width="0.95"/>
<circle cx="341.08" cy="413.50" r="1.8" fill="#fff" stroke="#000" stroke-width="0.95"/>
<circle cx="358.15" cy="403.00" r="1.8" fill="#fff" stroke="#000" stroke-width="0.95"/>
<text transform="translate(248.30,442.00) rotate(-90)" font-size="6.1" text-anchor="middle" font-weight="bold" fill="#111" stroke="#111" stroke-width="0.3">mmol/L</text>
<text x="256.40" y="508.30" font-size="12.6" font-weight="bold" fill="#000" stroke="#000" stroke-width="0.7">E</text>
<text x="274.00" y="511.50" font-size="6.6" font-weight="bold" fill="#000" stroke="#000" stroke-width="0.3">Hb</text>
<line x1="264.00" y1="517.20" x2="264.00" y2="604.45" stroke="#777777" stroke-width="1.6" />
<line x1="263.30" y1="603.75" x2="367.30" y2="603.75" stroke="#777777" stroke-width="1.6" />
<line x1="262.40" y1="517.50" x2="264.00" y2="517.50" stroke="#333" stroke-width="0.9" />
<text transform="translate(260.70,519.35) scale(0.86,1)" font-size="5.2" text-anchor="end" font-weight="bold" fill="#1a1a1a" stroke="#1a1a1a" stroke-width="0.2">24</text>
<line x1="262.40" y1="531.88" x2="264.00" y2="531.88" stroke="#333" stroke-width="0.9" />
<text transform="translate(260.70,533.73) scale(0.86,1)" font-size="5.2" text-anchor="end" font-weight="bold" fill="#1a1a1a" stroke="#1a1a1a" stroke-width="0.2">22</text>
<line x1="262.40" y1="546.25" x2="264.00" y2="546.25" stroke="#333" stroke-width="0.9" />
<text transform="translate(260.70,548.10) scale(0.86,1)" font-size="5.2" text-anchor="end" font-weight="bold" fill="#1a1a1a" stroke="#1a1a1a" stroke-width="0.2">20</text>
<line x1="262.40" y1="560.62" x2="264.00" y2="560.62" stroke="#333" stroke-width="0.9" />
<text transform="translate(260.70,562.48) scale(0.86,1)" font-size="5.2" text-anchor="end" font-weight="bold" fill="#1a1a1a" stroke="#1a1a1a" stroke-width="0.2">18</text>
<line x1="262.40" y1="575.00" x2="264.00" y2="575.00" stroke="#333" stroke-width="0.9" />
<text transform="translate(260.70,576.85) scale(0.86,1)" font-size="5.2" text-anchor="end" font-weight="bold" fill="#1a1a1a" stroke="#1a1a1a" stroke-width="0.2">16</text>
<line x1="262.40" y1="589.38" x2="264.00" y2="589.38" stroke="#333" stroke-width="0.9" />
<text transform="translate(260.70,591.23) scale(0.86,1)" font-size="5.2" text-anchor="end" font-weight="bold" fill="#1a1a1a" stroke="#1a1a1a" stroke-width="0.2">14</text>
<line x1="262.40" y1="603.75" x2="264.00" y2="603.75" stroke="#333" stroke-width="0.9" />
<text transform="translate(260.70,605.60) scale(0.86,1)" font-size="5.2" text-anchor="end" font-weight="bold" fill="#1a1a1a" stroke="#1a1a1a" stroke-width="0.2">12</text>
<line x1="272.80" y1="603.75" x2="272.80" y2="605.35" stroke="#333" stroke-width="0.9" />
<line x1="289.87" y1="603.75" x2="289.87" y2="605.35" stroke="#333" stroke-width="0.9" />
<line x1="306.94" y1="603.75" x2="306.94" y2="605.35" stroke="#333" stroke-width="0.9" />
<line x1="324.01" y1="603.75" x2="324.01" y2="605.35" stroke="#333" stroke-width="0.9" />
<line x1="341.08" y1="603.75" x2="341.08" y2="605.35" stroke="#333" stroke-width="0.9" />
<line x1="358.15" y1="603.75" x2="358.15" y2="605.35" stroke="#333" stroke-width="0.9" />
<circle cx="272.80" cy="551.75" r="2.2" fill="#000"/>
<circle cx="289.87" cy="549.50" r="2.2" fill="#000"/>
<circle cx="306.94" cy="533.25" r="2.2" fill="#000"/>
<circle cx="324.01" cy="569.25" r="2.2" fill="#000"/>
<circle cx="341.08" cy="554.00" r="2.2" fill="#000"/>
<circle cx="358.15" cy="553.00" r="2.2" fill="#000"/>
<circle cx="272.80" cy="558.00" r="1.8" fill="#fff" stroke="#000" stroke-width="0.95"/>
<circle cx="289.87" cy="544.75" r="1.8" fill="#fff" stroke="#000" stroke-width="0.95"/>
<circle cx="306.94" cy="548.25" r="1.8" fill="#fff" stroke="#000" stroke-width="0.95"/>
<circle cx="324.01" cy="565.00" r="1.8" fill="#fff" stroke="#000" stroke-width="0.95"/>
<circle cx="341.08" cy="562.75" r="1.8" fill="#fff" stroke="#000" stroke-width="0.95"/>
<circle cx="358.15" cy="567.50" r="1.8" fill="#fff" stroke="#000" stroke-width="0.95"/>
<text transform="translate(250.50,560.60) rotate(-90)" font-size="6.1" text-anchor="middle" font-weight="bold" fill="#111" stroke="#111" stroke-width="0.3">g/dL</text>
<text x="272.80" y="614.60" font-size="6.4" text-anchor="middle" font-weight="bold" fill="#111" stroke="#111" stroke-width="0.15">1</text>
<text x="289.87" y="614.60" font-size="6.4" text-anchor="middle" font-weight="bold" fill="#111" stroke="#111" stroke-width="0.15">2</text>
<text x="306.94" y="614.60" font-size="6.4" text-anchor="middle" font-weight="bold" fill="#111" stroke="#111" stroke-width="0.15">3</text>
<text x="324.01" y="614.60" font-size="6.4" text-anchor="middle" font-weight="bold" fill="#111" stroke="#111" stroke-width="0.15">4</text>
<text x="341.08" y="614.60" font-size="6.4" text-anchor="middle" font-weight="bold" fill="#111" stroke="#111" stroke-width="0.15">5</text>
<text x="358.15" y="614.60" font-size="6.4" text-anchor="middle" font-weight="bold" fill="#111" stroke="#111" stroke-width="0.15">6</text>
<text x="411.40" y="26.80" font-size="12.6" font-weight="bold" fill="#000" stroke="#000" stroke-width="0.7">F</text>
<text x="428.50" y="31.00" font-size="6.95" font-weight="bold" fill="#000" stroke="#000" stroke-width="0.3">PCO</text><text x="443.70" y="33.70" font-size="6.3" font-weight="bold" fill="#000" stroke="#000" stroke-width="0.3">2</text>
<line x1="416.60" y1="36.70" x2="416.60" y2="123.95" stroke="#777777" stroke-width="1.6" />
<line x1="415.90" y1="123.25" x2="520.00" y2="123.25" stroke="#777777" stroke-width="1.6" />
<line x1="415.00" y1="37.00" x2="416.60" y2="37.00" stroke="#333" stroke-width="0.9" />
<text transform="translate(413.30,38.85) scale(0.86,1)" font-size="5.2" text-anchor="end" font-weight="bold" fill="#1a1a1a" stroke="#1a1a1a" stroke-width="0.2">60</text>
<line x1="415.00" y1="51.38" x2="416.60" y2="51.38" stroke="#333" stroke-width="0.9" />
<text transform="translate(413.30,53.23) scale(0.86,1)" font-size="5.2" text-anchor="end" font-weight="bold" fill="#1a1a1a" stroke="#1a1a1a" stroke-width="0.2">50</text>
<line x1="415.00" y1="65.75" x2="416.60" y2="65.75" stroke="#333" stroke-width="0.9" />
<text transform="translate(413.30,67.60) scale(0.86,1)" font-size="5.2" text-anchor="end" font-weight="bold" fill="#1a1a1a" stroke="#1a1a1a" stroke-width="0.2">40</text>
<line x1="415.00" y1="80.12" x2="416.60" y2="80.12" stroke="#333" stroke-width="0.9" />
<text transform="translate(413.30,81.97) scale(0.86,1)" font-size="5.2" text-anchor="end" font-weight="bold" fill="#1a1a1a" stroke="#1a1a1a" stroke-width="0.2">30</text>
<line x1="415.00" y1="94.50" x2="416.60" y2="94.50" stroke="#333" stroke-width="0.9" />
<text transform="translate(413.30,96.35) scale(0.86,1)" font-size="5.2" text-anchor="end" font-weight="bold" fill="#1a1a1a" stroke="#1a1a1a" stroke-width="0.2">20</text>
<line x1="415.00" y1="108.88" x2="416.60" y2="108.88" stroke="#333" stroke-width="0.9" />
<text transform="translate(413.30,110.72) scale(0.86,1)" font-size="5.2" text-anchor="end" font-weight="bold" fill="#1a1a1a" stroke="#1a1a1a" stroke-width="0.2">10</text>
<line x1="415.00" y1="123.25" x2="416.60" y2="123.25" stroke="#333" stroke-width="0.9" />
<text transform="translate(413.30,125.10) scale(0.86,1)" font-size="5.2" text-anchor="end" font-weight="bold" fill="#1a1a1a" stroke="#1a1a1a" stroke-width="0.2">0</text>
<line x1="425.50" y1="123.25" x2="425.50" y2="124.85" stroke="#333" stroke-width="0.9" />
<line x1="442.65" y1="123.25" x2="442.65" y2="124.85" stroke="#333" stroke-width="0.9" />
<line x1="459.80" y1="123.25" x2="459.80" y2="124.85" stroke="#333" stroke-width="0.9" />
<line x1="476.95" y1="123.25" x2="476.95" y2="124.85" stroke="#333" stroke-width="0.9" />
<line x1="494.10" y1="123.25" x2="494.10" y2="124.85" stroke="#333" stroke-width="0.9" />
<line x1="511.25" y1="123.25" x2="511.25" y2="124.85" stroke="#333" stroke-width="0.9" />
<circle cx="425.50" cy="61.50" r="2.2" fill="#000"/>
<circle cx="442.65" cy="53.50" r="2.2" fill="#000"/>
<circle cx="459.80" cy="46.00" r="2.2" fill="#000"/>
<circle cx="476.95" cy="45.50" r="2.2" fill="#000"/>
<circle cx="494.10" cy="41.00" r="2.2" fill="#000"/>
<circle cx="511.25" cy="51.25" r="2.2" fill="#000"/>
<circle cx="425.50" cy="115.50" r="1.8" fill="#fff" stroke="#000" stroke-width="0.95"/>
<circle cx="442.65" cy="114.25" r="1.8" fill="#fff" stroke="#000" stroke-width="0.95"/>
<circle cx="459.80" cy="116.25" r="1.8" fill="#fff" stroke="#000" stroke-width="0.95"/>
<circle cx="476.95" cy="112.00" r="1.8" fill="#fff" stroke="#000" stroke-width="0.95"/>
<circle cx="494.10" cy="112.25" r="1.8" fill="#fff" stroke="#000" stroke-width="0.95"/>
<circle cx="511.25" cy="111.75" r="1.8" fill="#fff" stroke="#000" stroke-width="0.95"/>
<text transform="translate(402.30,80.30) rotate(-90)" font-size="6.1" text-anchor="middle" font-weight="bold" fill="#111" stroke="#111" stroke-width="0.3">mmHg</text>
<text x="411.20" y="146.90" font-size="12.6" font-weight="bold" fill="#000" stroke="#000" stroke-width="0.7">G</text>
<text x="430.20" y="149.90" font-size="6.4" font-weight="bold" fill="#000" stroke="#000" stroke-width="0.3">BE</text>
<line x1="416.60" y1="155.95" x2="416.60" y2="243.70" stroke="#777777" stroke-width="1.6" />
<line x1="415.90" y1="243.00" x2="520.00" y2="243.00" stroke="#777777" stroke-width="1.6" />
<line x1="415.00" y1="156.25" x2="416.60" y2="156.25" stroke="#333" stroke-width="0.9" />
<text transform="translate(413.30,158.10) scale(0.86,1)" font-size="5.2" text-anchor="end" font-weight="bold" fill="#1a1a1a" stroke="#1a1a1a" stroke-width="0.2">-22</text>
<line x1="415.00" y1="167.09" x2="416.60" y2="167.09" stroke="#333" stroke-width="0.9" />
<text transform="translate(413.30,168.94) scale(0.86,1)" font-size="5.2" text-anchor="end" font-weight="bold" fill="#1a1a1a" stroke="#1a1a1a" stroke-width="0.2">-24</text>
<line x1="415.00" y1="177.94" x2="416.60" y2="177.94" stroke="#333" stroke-width="0.9" />
<text transform="translate(413.30,179.79) scale(0.86,1)" font-size="5.2" text-anchor="end" font-weight="bold" fill="#1a1a1a" stroke="#1a1a1a" stroke-width="0.2">-26</text>
<line x1="415.00" y1="188.78" x2="416.60" y2="188.78" stroke="#333" stroke-width="0.9" />
<text transform="translate(413.30,190.63) scale(0.86,1)" font-size="5.2" text-anchor="end" font-weight="bold" fill="#1a1a1a" stroke="#1a1a1a" stroke-width="0.2">-28</text>
<line x1="415.00" y1="199.62" x2="416.60" y2="199.62" stroke="#333" stroke-width="0.9" />
<text transform="translate(413.30,201.47) scale(0.86,1)" font-size="5.2" text-anchor="end" font-weight="bold" fill="#1a1a1a" stroke="#1a1a1a" stroke-width="0.2">-30</text>
<line x1="415.00" y1="210.47" x2="416.60" y2="210.47" stroke="#333" stroke-width="0.9" />
<text transform="translate(413.30,212.32) scale(0.86,1)" font-size="5.2" text-anchor="end" font-weight="bold" fill="#1a1a1a" stroke="#1a1a1a" stroke-width="0.2">-32</text>
<line x1="415.00" y1="221.31" x2="416.60" y2="221.31" stroke="#333" stroke-width="0.9" />
<text transform="translate(413.30,223.16) scale(0.86,1)" font-size="5.2" text-anchor="end" font-weight="bold" fill="#1a1a1a" stroke="#1a1a1a" stroke-width="0.2">-34</text>
<line x1="415.00" y1="232.16" x2="416.60" y2="232.16" stroke="#333" stroke-width="0.9" />
<text transform="translate(413.30,234.01) scale(0.86,1)" font-size="5.2" text-anchor="end" font-weight="bold" fill="#1a1a1a" stroke="#1a1a1a" stroke-width="0.2">-36</text>
<line x1="415.00" y1="243.00" x2="416.60" y2="243.00" stroke="#333" stroke-width="0.9" />
<text transform="translate(413.30,244.85) scale(0.86,1)" font-size="5.2" text-anchor="end" font-weight="bold" fill="#1a1a1a" stroke="#1a1a1a" stroke-width="0.2">-38</text>
<line x1="425.50" y1="243.00" x2="425.50" y2="244.60" stroke="#333" stroke-width="0.9" />
<line x1="442.65" y1="243.00" x2="442.65" y2="244.60" stroke="#333" stroke-width="0.9" />
<line x1="459.80" y1="243.00" x2="459.80" y2="244.60" stroke="#333" stroke-width="0.9" />
<line x1="476.95" y1="243.00" x2="476.95" y2="244.60" stroke="#333" stroke-width="0.9" />
<line x1="494.10" y1="243.00" x2="494.10" y2="244.60" stroke="#333" stroke-width="0.9" />
<line x1="511.25" y1="243.00" x2="511.25" y2="244.60" stroke="#333" stroke-width="0.9" />
<circle cx="425.50" cy="167.75" r="2.2" fill="#000"/>
<circle cx="442.65" cy="166.25" r="2.2" fill="#000"/>
<circle cx="459.80" cy="182.25" r="2.2" fill="#000"/>
<circle cx="476.95" cy="186.25" r="2.2" fill="#000"/>
<circle cx="494.10" cy="186.50" r="2.2" fill="#000"/>
<circle cx="511.25" cy="189.00" r="2.2" fill="#000"/>
<circle cx="425.50" cy="215.50" r="1.8" fill="#fff" stroke="#000" stroke-width="0.95"/>
<circle cx="442.65" cy="214.25" r="1.8" fill="#fff" stroke="#000" stroke-width="0.95"/>
<circle cx="459.80" cy="221.50" r="1.8" fill="#fff" stroke="#000" stroke-width="0.95"/>
<circle cx="476.95" cy="234.75" r="1.8" fill="#fff" stroke="#000" stroke-width="0.95"/>
<circle cx="494.10" cy="223.75" r="1.8" fill="#fff" stroke="#000" stroke-width="0.95"/>
<circle cx="511.25" cy="226.50" r="1.8" fill="#fff" stroke="#000" stroke-width="0.95"/>
<text transform="translate(401.50,199.50) rotate(-90)" font-size="6.1" text-anchor="middle" font-weight="bold" fill="#111" stroke="#111" stroke-width="0.3">mmol/L</text>
<text x="411.60" y="270.70" font-size="12.6" font-weight="bold" fill="#000" stroke="#000" stroke-width="0.7">H</text>
<text x="429.00" y="273.20" font-size="7.3" font-weight="bold" fill="#000" stroke="#000" stroke-width="0.3">pH</text>
<line x1="416.60" y1="277.95" x2="416.60" y2="365.70" stroke="#777777" stroke-width="1.6" />
<line x1="415.90" y1="365.00" x2="520.00" y2="365.00" stroke="#777777" stroke-width="1.6" />
<line x1="415.00" y1="278.25" x2="416.60" y2="278.25" stroke="#333" stroke-width="0.9" />
<text transform="translate(413.30,280.10) scale(0.86,1)" font-size="5.2" text-anchor="end" font-weight="bold" fill="#1a1a1a" stroke="#1a1a1a" stroke-width="0.2">6.95</text>
<line x1="415.00" y1="290.64" x2="416.60" y2="290.64" stroke="#333" stroke-width="0.9" />
<text transform="translate(413.30,292.49) scale(0.86,1)" font-size="5.2" text-anchor="end" font-weight="bold" fill="#1a1a1a" stroke="#1a1a1a" stroke-width="0.2">6.90</text>
<line x1="415.00" y1="303.04" x2="416.60" y2="303.04" stroke="#333" stroke-width="0.9" />
<text transform="translate(413.30,304.89) scale(0.86,1)" font-size="5.2" text-anchor="end" font-weight="bold" fill="#1a1a1a" stroke="#1a1a1a" stroke-width="0.2">6.85</text>
<line x1="415.00" y1="315.43" x2="416.60" y2="315.43" stroke="#333" stroke-width="0.9" />
<text transform="translate(413.30,317.28) scale(0.86,1)" font-size="5.2" text-anchor="end" font-weight="bold" fill="#1a1a1a" stroke="#1a1a1a" stroke-width="0.2">6.80</text>
<line x1="415.00" y1="327.82" x2="416.60" y2="327.82" stroke="#333" stroke-width="0.9" />
<text transform="translate(413.30,329.67) scale(0.86,1)" font-size="5.2" text-anchor="end" font-weight="bold" fill="#1a1a1a" stroke="#1a1a1a" stroke-width="0.2">6.75</text>
<line x1="415.00" y1="340.21" x2="416.60" y2="340.21" stroke="#333" stroke-width="0.9" />
<text transform="translate(413.30,342.06) scale(0.86,1)" font-size="5.2" text-anchor="end" font-weight="bold" fill="#1a1a1a" stroke="#1a1a1a" stroke-width="0.2">6.70</text>
<line x1="415.00" y1="352.61" x2="416.60" y2="352.61" stroke="#333" stroke-width="0.9" />
<text transform="translate(413.30,354.46) scale(0.86,1)" font-size="5.2" text-anchor="end" font-weight="bold" fill="#1a1a1a" stroke="#1a1a1a" stroke-width="0.2">6.65</text>
<line x1="415.00" y1="365.00" x2="416.60" y2="365.00" stroke="#333" stroke-width="0.9" />
<text transform="translate(413.30,366.85) scale(0.86,1)" font-size="5.2" text-anchor="end" font-weight="bold" fill="#1a1a1a" stroke="#1a1a1a" stroke-width="0.2">6.60</text>
<line x1="425.50" y1="365.00" x2="425.50" y2="366.60" stroke="#333" stroke-width="0.9" />
<line x1="442.65" y1="365.00" x2="442.65" y2="366.60" stroke="#333" stroke-width="0.9" />
<line x1="459.80" y1="365.00" x2="459.80" y2="366.60" stroke="#333" stroke-width="0.9" />
<line x1="476.95" y1="365.00" x2="476.95" y2="366.60" stroke="#333" stroke-width="0.9" />
<line x1="494.10" y1="365.00" x2="494.10" y2="366.60" stroke="#333" stroke-width="0.9" />
<line x1="511.25" y1="365.00" x2="511.25" y2="366.60" stroke="#333" stroke-width="0.9" />
<circle cx="425.50" cy="287.00" r="2.2" fill="#000"/>
<circle cx="442.65" cy="291.75" r="2.2" fill="#000"/>
<circle cx="459.80" cy="317.50" r="2.2" fill="#000"/>
<circle cx="476.95" cy="324.25" r="2.2" fill="#000"/>
<circle cx="494.10" cy="328.50" r="2.2" fill="#000"/>
<circle cx="511.25" cy="323.50" r="2.2" fill="#000"/>
<circle cx="425.50" cy="288.75" r="1.8" fill="#fff" stroke="#000" stroke-width="0.95"/>
<circle cx="442.65" cy="300.75" r="1.8" fill="#fff" stroke="#000" stroke-width="0.95"/>
<circle cx="459.80" cy="315.25" r="1.8" fill="#fff" stroke="#000" stroke-width="0.95"/>
<circle cx="476.95" cy="353.50" r="1.8" fill="#fff" stroke="#000" stroke-width="0.95"/>
<circle cx="494.10" cy="326.25" r="1.8" fill="#fff" stroke="#000" stroke-width="0.95"/>
<circle cx="511.25" cy="332.75" r="1.8" fill="#fff" stroke="#000" stroke-width="0.95"/>
<text x="411.20" y="388.80" font-size="12.6" font-weight="bold" fill="#000" stroke="#000" stroke-width="0.7">I</text>
<text x="426.10" y="391.70" font-size="7.1" font-weight="bold" fill="#000" stroke="#000" stroke-width="0.3">Lactate</text>
<line x1="416.70" y1="398.95" x2="416.70" y2="486.00" stroke="#777777" stroke-width="1.6" />
<line x1="416.00" y1="485.30" x2="520.00" y2="485.30" stroke="#777777" stroke-width="1.6" />
<line x1="415.10" y1="399.25" x2="416.70" y2="399.25" stroke="#333" stroke-width="0.9" />
<text transform="translate(413.40,401.10) scale(0.86,1)" font-size="5.2" text-anchor="end" font-weight="bold" fill="#1a1a1a" stroke="#1a1a1a" stroke-width="0.2">18</text>
<line x1="415.10" y1="407.93" x2="416.70" y2="407.93" stroke="#333" stroke-width="0.9" />
<text transform="translate(413.40,409.78) scale(0.86,1)" font-size="5.2" text-anchor="end" font-weight="bold" fill="#1a1a1a" stroke="#1a1a1a" stroke-width="0.2">16</text>
<line x1="415.10" y1="416.62" x2="416.70" y2="416.62" stroke="#333" stroke-width="0.9" />
<text transform="translate(413.40,418.47) scale(0.86,1)" font-size="5.2" text-anchor="end" font-weight="bold" fill="#1a1a1a" stroke="#1a1a1a" stroke-width="0.2">14</text>
<line x1="415.10" y1="425.30" x2="416.70" y2="425.30" stroke="#333" stroke-width="0.9" />
<text transform="translate(413.40,427.15) scale(0.86,1)" font-size="5.2" text-anchor="end" font-weight="bold" fill="#1a1a1a" stroke="#1a1a1a" stroke-width="0.2">12</text>
<line x1="415.10" y1="433.98" x2="416.70" y2="433.98" stroke="#333" stroke-width="0.9" />
<text transform="translate(413.40,435.83) scale(0.86,1)" font-size="5.2" text-anchor="end" font-weight="bold" fill="#1a1a1a" stroke="#1a1a1a" stroke-width="0.2">10</text>
<line x1="415.10" y1="442.67" x2="416.70" y2="442.67" stroke="#333" stroke-width="0.9" />
<text transform="translate(413.40,444.52) scale(0.86,1)" font-size="5.2" text-anchor="end" font-weight="bold" fill="#1a1a1a" stroke="#1a1a1a" stroke-width="0.2">8</text>
<line x1="415.10" y1="451.35" x2="416.70" y2="451.35" stroke="#333" stroke-width="0.9" />
<text transform="translate(413.40,453.20) scale(0.86,1)" font-size="5.2" text-anchor="end" font-weight="bold" fill="#1a1a1a" stroke="#1a1a1a" stroke-width="0.2">6</text>
<line x1="415.10" y1="460.03" x2="416.70" y2="460.03" stroke="#333" stroke-width="0.9" />
<text transform="translate(413.40,461.88) scale(0.86,1)" font-size="5.2" text-anchor="end" font-weight="bold" fill="#1a1a1a" stroke="#1a1a1a" stroke-width="0.2">4</text>
<line x1="415.10" y1="468.72" x2="416.70" y2="468.72" stroke="#333" stroke-width="0.9" />
<text transform="translate(413.40,470.57) scale(0.86,1)" font-size="5.2" text-anchor="end" font-weight="bold" fill="#1a1a1a" stroke="#1a1a1a" stroke-width="0.2">2</text>
<line x1="415.10" y1="477.40" x2="416.70" y2="477.40" stroke="#333" stroke-width="0.9" />
<text transform="translate(413.40,479.25) scale(0.86,1)" font-size="5.2" text-anchor="end" font-weight="bold" fill="#1a1a1a" stroke="#1a1a1a" stroke-width="0.2">0</text>
<line x1="425.50" y1="485.30" x2="425.50" y2="486.90" stroke="#333" stroke-width="0.9" />
<line x1="442.65" y1="485.30" x2="442.65" y2="486.90" stroke="#333" stroke-width="0.9" />
<line x1="459.80" y1="485.30" x2="459.80" y2="486.90" stroke="#333" stroke-width="0.9" />
<line x1="476.95" y1="485.30" x2="476.95" y2="486.90" stroke="#333" stroke-width="0.9" />
<line x1="494.10" y1="485.30" x2="494.10" y2="486.90" stroke="#333" stroke-width="0.9" />
<line x1="511.25" y1="485.30" x2="511.25" y2="486.90" stroke="#333" stroke-width="0.9" />
<circle cx="425.50" cy="430.00" r="2.2" fill="#000"/>
<circle cx="442.65" cy="419.75" r="2.2" fill="#000"/>
<circle cx="459.80" cy="414.00" r="2.2" fill="#000"/>
<circle cx="476.95" cy="413.00" r="2.2" fill="#000"/>
<circle cx="494.10" cy="405.00" r="2.2" fill="#000"/>
<circle cx="511.25" cy="413.00" r="2.2" fill="#000"/>
<circle cx="425.50" cy="474.75" r="1.8" fill="#fff" stroke="#000" stroke-width="0.95"/>
<circle cx="442.65" cy="471.50" r="1.8" fill="#fff" stroke="#000" stroke-width="0.95"/>
<circle cx="459.80" cy="467.25" r="1.8" fill="#fff" stroke="#000" stroke-width="0.95"/>
<circle cx="476.95" cy="464.25" r="1.8" fill="#fff" stroke="#000" stroke-width="0.95"/>
<circle cx="494.10" cy="457.50" r="1.8" fill="#fff" stroke="#000" stroke-width="0.95"/>
<circle cx="511.25" cy="473.25" r="1.8" fill="#fff" stroke="#000" stroke-width="0.95"/>
<text transform="translate(403.80,442.00) rotate(-90)" font-size="6.1" text-anchor="middle" font-weight="bold" fill="#111" stroke="#111" stroke-width="0.3">mmol/L</text>
<text x="411.10" y="508.70" font-size="12.6" font-weight="bold" fill="#000" stroke="#000" stroke-width="0.7">J</text>
<text x="428.60" y="511.80" font-size="7.1" font-weight="bold" fill="#000" stroke="#000" stroke-width="0.3">Glucose</text>
<line x1="416.60" y1="517.20" x2="416.60" y2="604.45" stroke="#777777" stroke-width="1.6" />
<line x1="415.90" y1="603.75" x2="520.00" y2="603.75" stroke="#777777" stroke-width="1.6" />
<line x1="415.00" y1="517.50" x2="416.60" y2="517.50" stroke="#333" stroke-width="0.9" />
<text transform="translate(413.30,519.35) scale(0.86,1)" font-size="5.2" text-anchor="end" font-weight="bold" fill="#1a1a1a" stroke="#1a1a1a" stroke-width="0.2">600</text>
<line x1="415.00" y1="534.75" x2="416.60" y2="534.75" stroke="#333" stroke-width="0.9" />
<text transform="translate(413.30,536.60) scale(0.86,1)" font-size="5.2" text-anchor="end" font-weight="bold" fill="#1a1a1a" stroke="#1a1a1a" stroke-width="0.2">500</text>
<line x1="415.00" y1="552.00" x2="416.60" y2="552.00" stroke="#333" stroke-width="0.9" />
<text transform="translate(413.30,553.85) scale(0.86,1)" font-size="5.2" text-anchor="end" font-weight="bold" fill="#1a1a1a" stroke="#1a1a1a" stroke-width="0.2">400</text>
<line x1="415.00" y1="569.25" x2="416.60" y2="569.25" stroke="#333" stroke-width="0.9" />
<text transform="translate(413.30,571.10) scale(0.86,1)" font-size="5.2" text-anchor="end" font-weight="bold" fill="#1a1a1a" stroke="#1a1a1a" stroke-width="0.2">300</text>
<line x1="415.00" y1="586.50" x2="416.60" y2="586.50" stroke="#333" stroke-width="0.9" />
<text transform="translate(413.30,588.35) scale(0.86,1)" font-size="5.2" text-anchor="end" font-weight="bold" fill="#1a1a1a" stroke="#1a1a1a" stroke-width="0.2">200</text>
<line x1="415.00" y1="603.75" x2="416.60" y2="603.75" stroke="#333" stroke-width="0.9" />
<text transform="translate(413.30,605.60) scale(0.86,1)" font-size="5.2" text-anchor="end" font-weight="bold" fill="#1a1a1a" stroke="#1a1a1a" stroke-width="0.2">100</text>
<line x1="425.50" y1="603.75" x2="425.50" y2="605.35" stroke="#333" stroke-width="0.9" />
<line x1="442.65" y1="603.75" x2="442.65" y2="605.35" stroke="#333" stroke-width="0.9" />
<line x1="459.80" y1="603.75" x2="459.80" y2="605.35" stroke="#333" stroke-width="0.9" />
<line x1="476.95" y1="603.75" x2="476.95" y2="605.35" stroke="#333" stroke-width="0.9" />
<line x1="494.10" y1="603.75" x2="494.10" y2="605.35" stroke="#333" stroke-width="0.9" />
<line x1="511.25" y1="603.75" x2="511.25" y2="605.35" stroke="#333" stroke-width="0.9" />
<circle cx="425.50" cy="534.50" r="2.2" fill="#000"/>
<circle cx="442.65" cy="534.50" r="2.2" fill="#000"/>
<circle cx="459.80" cy="536.75" r="2.2" fill="#000"/>
<circle cx="476.95" cy="534.50" r="2.2" fill="#000"/>
<circle cx="494.10" cy="534.50" r="2.2" fill="#000"/>
<circle cx="511.25" cy="534.50" r="2.2" fill="#000"/>
<circle cx="425.50" cy="590.00" r="1.8" fill="#fff" stroke="#000" stroke-width="0.95"/>
<circle cx="442.65" cy="590.00" r="1.8" fill="#fff" stroke="#000" stroke-width="0.95"/>
<circle cx="459.80" cy="591.00" r="1.8" fill="#fff" stroke="#000" stroke-width="0.95"/>
<circle cx="476.95" cy="590.00" r="1.8" fill="#fff" stroke="#000" stroke-width="0.95"/>
<circle cx="494.10" cy="590.50" r="1.8" fill="#fff" stroke="#000" stroke-width="0.95"/>
<circle cx="511.25" cy="590.75" r="1.8" fill="#fff" stroke="#000" stroke-width="0.95"/>
<text transform="translate(401.00,560.30) rotate(-90)" font-size="6.1" text-anchor="middle" font-weight="bold" fill="#111" stroke="#111" stroke-width="0.3">mg/dL</text>
<text x="425.50" y="614.60" font-size="6.4" text-anchor="middle" font-weight="bold" fill="#111" stroke="#111" stroke-width="0.15">1</text>
<text x="442.65" y="614.60" font-size="6.4" text-anchor="middle" font-weight="bold" fill="#111" stroke="#111" stroke-width="0.15">2</text>
<text x="459.80" y="614.60" font-size="6.4" text-anchor="middle" font-weight="bold" fill="#111" stroke="#111" stroke-width="0.15">3</text>
<text x="476.95" y="614.60" font-size="6.4" text-anchor="middle" font-weight="bold" fill="#111" stroke="#111" stroke-width="0.15">4</text>
<text x="494.10" y="614.60" font-size="6.4" text-anchor="middle" font-weight="bold" fill="#111" stroke="#111" stroke-width="0.15">5</text>
<text x="511.25" y="614.60" font-size="6.4" text-anchor="middle" font-weight="bold" fill="#111" stroke="#111" stroke-width="0.15">6</text>
<text x="222.00" y="649.00" font-size="11" fill="#000" stroke="#000" stroke-width="0.25">Age of stored blood (week)</text>
<text x="72.00" y="679.00" font-size="9" fill="#000" stroke="#000" stroke-width="0.25">Each represents an individual bag of ~250 (g) packed red blood cells</text>
</svg>
</body></html>
